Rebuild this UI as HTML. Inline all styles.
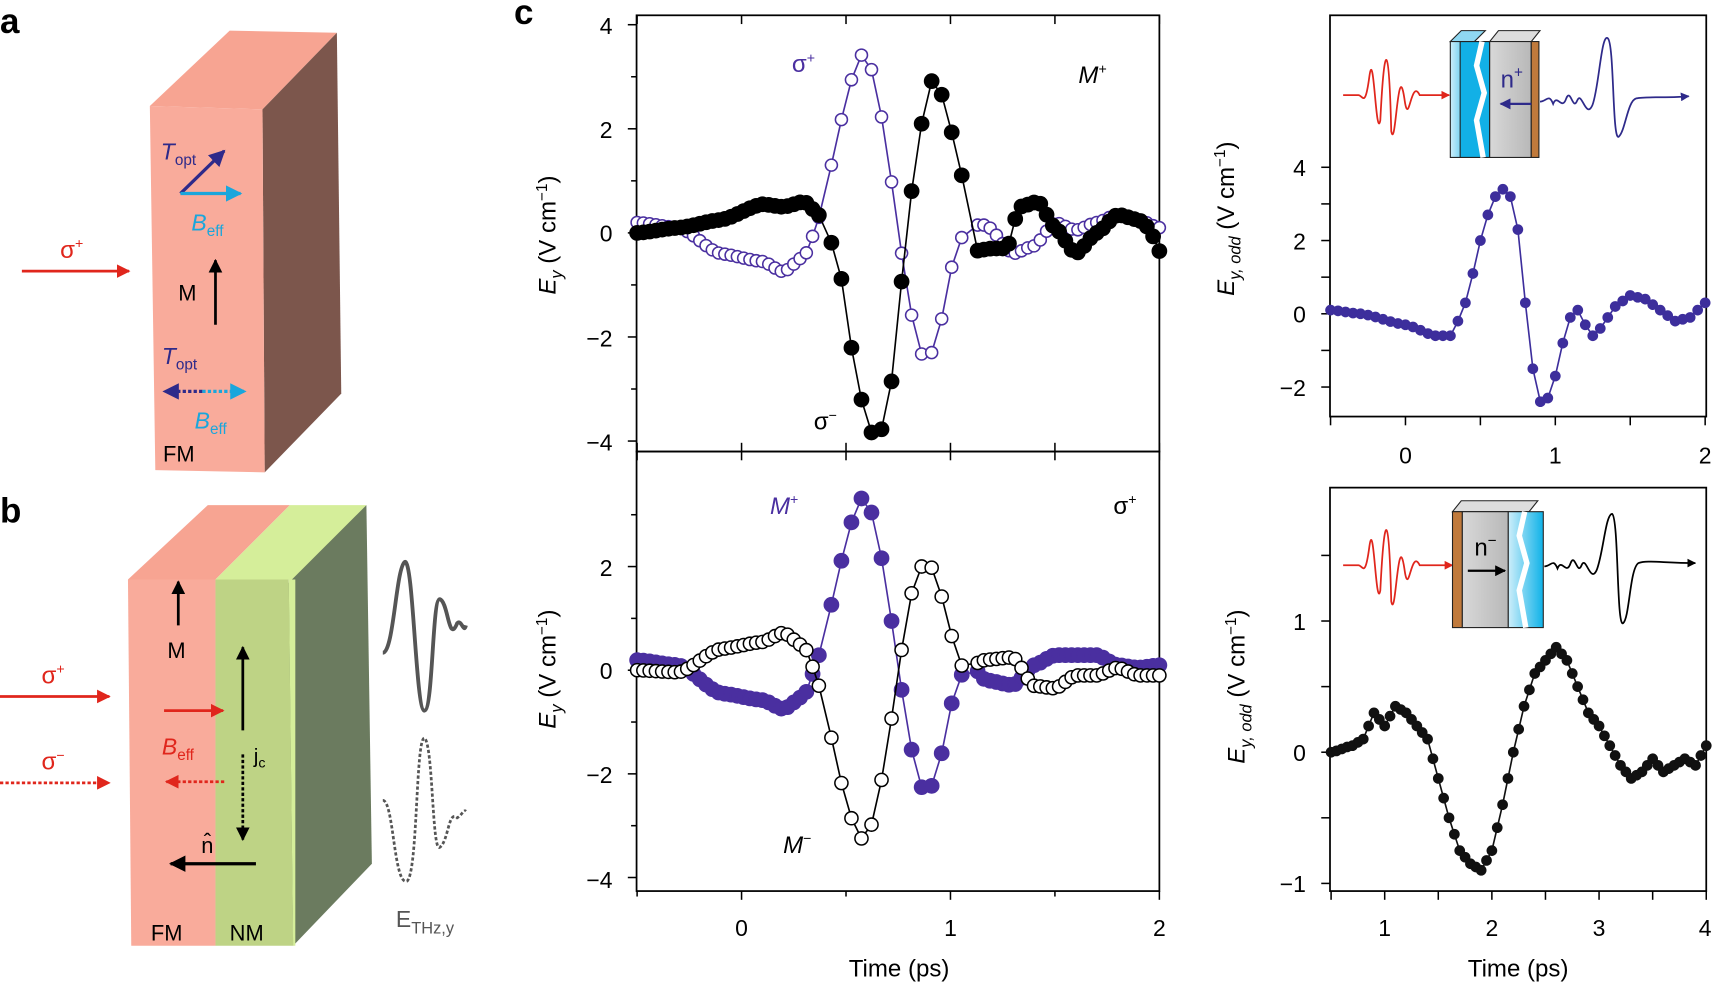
<!DOCTYPE html>
<html><head><meta charset="utf-8"><style>
html,body{margin:0;padding:0;background:#fff;}
svg{display:block;font-family:"Liberation Sans",sans-serif;}
</style></head><body>
<svg id="s" width="1715" height="984" viewBox="0 0 1568 900" preserveAspectRatio="none" xmlns="http://www.w3.org/2000/svg">
<defs>
<marker id="ar" viewBox="0 0 10 10" refX="9" refY="5" markerWidth="5" markerHeight="5" orient="auto"><path d="M0,0L10,5L0,10z" fill="#e0261c"/></marker>
<marker id="ak" viewBox="0 0 10 10" refX="9" refY="5" markerWidth="5" markerHeight="5" orient="auto"><path d="M0,0L10,5L0,10z" fill="#000"/></marker>
<marker id="ab" viewBox="0 0 10 10" refX="9" refY="5" markerWidth="5" markerHeight="5" orient="auto"><path d="M0,0L10,5L0,10z" fill="#2e2a8a"/></marker>
<marker id="ac" viewBox="0 0 10 10" refX="9" refY="5" markerWidth="5" markerHeight="5" orient="auto"><path d="M0,0L10,5L0,10z" fill="#1aa6dc"/></marker>
<linearGradient id="gb" x1="0" x2="1"><stop offset="0" stop-color="#cdeefa"/><stop offset="1" stop-color="#0fb2e8"/></linearGradient>
<linearGradient id="gg" x1="0" x2="1"><stop offset="0" stop-color="#d8d8d8"/><stop offset="1" stop-color="#b8b8b8"/></linearGradient>
</defs>
<!-- panel labels -->
<text x="0" y="30" font-size="32" font-weight="bold">a</text>
<text x="0" y="478" font-size="32" font-weight="bold">b</text>
<text x="470" y="22" font-size="32" font-weight="bold">c</text>

<!-- panel a block -->
<polygon points="137,97 240,100 308,30 210,28" fill="#f7a492"/>
<polygon points="240,100 308,30 312,360 242,432" fill="#7c564c"/>
<polygon points="137,97 240,100 242,432 142,430" fill="#f9ab9b"/>
<line x1="20" y1="248" x2="118" y2="248" stroke="#e0261c" stroke-width="2.5" marker-end="url(#ar)"/>
<text x="55" y="236" font-size="22" fill="#e0261c">σ<tspan font-size="13" dy="-9">+</tspan></text>
<text x="147" y="146" font-size="21" fill="#2e2a8a" font-style="italic">T<tspan font-size="14" dy="5" font-style="normal">opt</tspan></text>
<line x1="165" y1="177" x2="205" y2="138" stroke="#2e2a8a" stroke-width="3" marker-end="url(#ab)"/>
<line x1="165" y1="177" x2="220" y2="177" stroke="#1aa6dc" stroke-width="3" marker-end="url(#ac)"/>
<text x="175" y="211" font-size="21" fill="#1aa6dc" font-style="italic">B<tspan font-size="14" dy="5" font-style="normal">eff</tspan></text>
<line x1="197" y1="297" x2="197" y2="238" stroke="#000" stroke-width="2.5" marker-end="url(#ak)"/>
<text x="163" y="275" font-size="20">M</text>
<text x="148" y="333" font-size="21" fill="#2e2a8a" font-style="italic">T<tspan font-size="14" dy="5" font-style="normal">opt</tspan></text>
<line x1="185" y1="358" x2="150" y2="358" stroke="#2e2a8a" stroke-width="3" stroke-dasharray="3,2" marker-end="url(#ab)"/>
<line x1="185" y1="358" x2="224" y2="358" stroke="#1aa6dc" stroke-width="3" stroke-dasharray="3,2" marker-end="url(#ac)"/>
<text x="178" y="392" font-size="21" fill="#1aa6dc" font-style="italic">B<tspan font-size="14" dy="5" font-style="normal">eff</tspan></text>
<text x="149" y="422" font-size="20">FM</text>

<!-- panel b block -->
<polygon points="117,530 197,530 265,462 190,462" fill="#f7a492"/>
<polygon points="197,530 270,530 335,462 265,462" fill="#d5ee9a"/>
<polygon points="262,535 335,462 340,790 268,865" fill="#6b7b5f"/>
<polygon points="117,530 197,530 197,865 120,865" fill="#f9ab9b"/>
<polygon points="197,530 264,530 268,865 197,865" fill="#bed385"/>
<polygon points="264,530 270,530 270,865 268,865" fill="#d5ee9a"/>
<line x1="163" y1="572" x2="163" y2="532" stroke="#000" stroke-width="2.5" marker-end="url(#ak)"/>
<text x="153" y="602" font-size="20">M</text>
<line x1="0" y1="637" x2="100" y2="637" stroke="#e0261c" stroke-width="2.5" marker-end="url(#ar)"/>
<text x="38" y="625" font-size="22" fill="#e0261c">σ<tspan font-size="13" dy="-9">+</tspan></text>
<line x1="0" y1="716" x2="100" y2="716" stroke="#e0261c" stroke-width="2.5" stroke-dasharray="3,2" marker-end="url(#ar)"/>
<text x="38" y="704" font-size="22" fill="#e0261c">σ<tspan font-size="13" dy="-9">−</tspan></text>
<line x1="150" y1="650" x2="204" y2="650" stroke="#e0261c" stroke-width="2.5" marker-end="url(#ar)"/>
<text x="148" y="690" font-size="21" fill="#e0261c" font-style="italic">B<tspan font-size="14" dy="5" font-style="normal">eff</tspan></text>
<line x1="205" y1="715" x2="152" y2="715" stroke="#e0261c" stroke-width="2.5" stroke-dasharray="3,2" marker-end="url(#ar)"/>
<line x1="222" y1="668" x2="222" y2="592" stroke="#000" stroke-width="2.5" marker-end="url(#ak)"/>
<line x1="222" y1="690" x2="222" y2="768" stroke="#000" stroke-width="2.5" stroke-dasharray="3,2" marker-end="url(#ak)"/>
<text x="232" y="698" font-size="19">j<tspan font-size="13" dy="4">c</tspan></text>
<text x="184" y="780" font-size="20">n̂</text>
<line x1="234" y1="790" x2="156" y2="790" stroke="#000" stroke-width="3" marker-end="url(#ak)"/>
<text x="138" y="860" font-size="20">FM</text>
<text x="210" y="860" font-size="20">NM</text>
<path d="M350,597 C360,597 362,520 370,514 C378,510 380,650 388,650 C396,650 395,548 402,548 C410,550 410,590 418,570 C422,566 424,580 426,572" fill="none" stroke="#555" stroke-width="3.5"/>
<path d="M350,732 C360,732 360,810 372,806 C382,800 380,675 388,675 C396,680 395,780 402,775 C410,770 410,740 418,748 C422,746 424,740 426,742" fill="none" stroke="#555" stroke-width="2.5" stroke-dasharray="3,2"/>
<text x="362" y="848" font-size="21" fill="#555">E<tspan font-size="15" dy="6">THz,y</tspan></text>

<!-- panel c frames -->
<g fill="none" stroke="#000" stroke-width="1.6">
<rect x="582" y="14" width="478" height="399"/>
<rect x="582" y="413" width="478" height="402"/>
<rect x="1216" y="14" width="344" height="367"/>
<rect x="1216" y="446" width="344" height="369"/>
</g>
<g id="ticks" stroke="#000" stroke-width="1.4"></g>
<g font-size="21" text-anchor="end">
<text x="560" y="31">4</text><text x="560" y="126">2</text><text x="560" y="221">0</text><text x="560" y="317">−2</text><text x="560" y="412">−4</text>
<text x="560" y="527">2</text><text x="560" y="621">0</text><text x="560" y="716">−2</text><text x="560" y="812">−4</text>
<text x="1194" y="161">4</text><text x="1194" y="228">2</text><text x="1194" y="295">0</text><text x="1194" y="362">−2</text>
<text x="1194" y="576">1</text><text x="1194" y="696">0</text><text x="1194" y="816">−1</text>
</g>
<g font-size="21" text-anchor="middle">
<text x="678" y="856">0</text><text x="869" y="856">1</text><text x="1060" y="856">2</text>
<text x="1285" y="424">0</text><text x="1422" y="424">1</text><text x="1559" y="424">2</text>
<text x="1266" y="856">1</text><text x="1364" y="856">2</text><text x="1462" y="856">3</text><text x="1559" y="856">4</text>
<text x="822" y="893" font-size="22">Time (ps)</text>
<text x="1388" y="893" font-size="22">Time (ps)</text>
</g>
<g font-size="22">
<text transform="translate(508,215) rotate(-90)" text-anchor="middle"><tspan font-style="italic">E</tspan><tspan font-style="italic" font-size="15" dy="6">y</tspan><tspan dy="-6"> (V cm</tspan><tspan font-size="14" dy="-8">−1</tspan><tspan dy="8">)</tspan></text>
<text transform="translate(508,612) rotate(-90)" text-anchor="middle"><tspan font-style="italic">E</tspan><tspan font-style="italic" font-size="15" dy="6">y</tspan><tspan dy="-6"> (V cm</tspan><tspan font-size="14" dy="-8">−1</tspan><tspan dy="8">)</tspan></text>
<text transform="translate(1128,200) rotate(-90)" text-anchor="middle"><tspan font-style="italic">E</tspan><tspan font-style="italic" font-size="15" dy="6">y, odd</tspan><tspan dy="-6"> (V cm</tspan><tspan font-size="14" dy="-8">−1</tspan><tspan dy="8">)</tspan></text>
<text transform="translate(1138,628) rotate(-90)" text-anchor="middle"><tspan font-style="italic">E</tspan><tspan font-style="italic" font-size="15" dy="6">y, odd</tspan><tspan dy="-6"> (V cm</tspan><tspan font-size="14" dy="-8">−1</tspan><tspan dy="8">)</tspan></text>
</g>
<g font-size="22">
<text x="724" y="66" fill="#4a2fa0">σ<tspan font-size="13" dy="-9">+</tspan></text>
<text x="986" y="76" font-style="italic">M<tspan font-size="13" dy="-9" font-style="normal">+</tspan></text>
<text x="744" y="393">σ<tspan font-size="13" dy="-9">−</tspan></text>
<text x="704" y="470" font-style="italic" fill="#4a2fa0">M<tspan font-size="13" dy="-9" font-style="normal">+</tspan></text>
<text x="1018" y="470">σ<tspan font-size="13" dy="-9">+</tspan></text>
<text x="716" y="780" font-style="italic">M<tspan font-size="13" dy="-9" font-style="normal">−</tspan></text>
</g>
<g id="data"></g>

<!-- insets top -->
<path d="M1228,87 L1242,87 C1246,87 1248,100 1252,70 C1256,40 1258,130 1262,110 C1266,30 1270,40 1272,120 C1276,140 1278,50 1284,90 C1288,120 1290,70 1298,87 L1325,87" fill="none" stroke="#e0261c" stroke-width="1.6" marker-end="url(#ar)"/>
<polygon points="1326,38 1336,28 1358,28 1348,38" fill="#8fd8f2" stroke="#222" stroke-width="1"/>
<rect x="1326" y="38" width="22" height="106" fill="url(#gb)" stroke="#222" stroke-width="1"/>
<polygon points="1335,38 1362,38 1362,144 1335,144" fill="#12b0e6" stroke="#222" stroke-width="1"/>
<path d="M1355,38 L1350,60 L1357,85 L1350,110 L1356,144" stroke="#fff" stroke-width="5" fill="none"/>
<polygon points="1362,38 1400,38 1408,28 1370,28" fill="#ddd" stroke="#222" stroke-width="1"/>
<rect x="1362" y="38" width="38" height="106" fill="url(#gg)" stroke="#222" stroke-width="1"/>
<rect x="1400" y="38" width="7" height="106" fill="#c07a3c" stroke="#222" stroke-width="1"/>
<text x="1372" y="80" font-size="22" fill="#2e2a8a">n<tspan font-size="14" dy="-9">+</tspan></text>
<line x1="1400" y1="95" x2="1372" y2="95" stroke="#2e2a8a" stroke-width="2" marker-end="url(#ab)"/>
<path d="M1408,93 C1414,93 1416,85 1420,95 C1424,85 1428,102 1432,90 C1436,80 1438,102 1442,92 C1446,82 1450,110 1456,96 C1462,80 1464,30 1470,35 C1476,40 1474,130 1480,125 C1486,120 1488,92 1496,90 C1504,88 1520,90 1544,88" fill="none" stroke="#2e2a8a" stroke-width="1.6" marker-end="url(#ab)"/>
<!-- inset bottom -->
<path d="M1228,517 L1242,517 C1246,517 1248,530 1252,500 C1256,470 1258,560 1262,540 C1266,460 1270,470 1272,550 C1276,570 1278,480 1284,520 C1288,550 1290,500 1298,517 L1328,517" fill="none" stroke="#e0261c" stroke-width="1.6" marker-end="url(#ar)"/>
<polygon points="1328,468 1336,458 1406,458 1398,468" fill="#ddd" stroke="#222" stroke-width="1"/>
<rect x="1328" y="468" width="9" height="106" fill="#c07a3c" stroke="#222" stroke-width="1"/>
<rect x="1337" y="468" width="42" height="106" fill="url(#gg)" stroke="#222" stroke-width="1"/>
<rect x="1379" y="468" width="32" height="106" fill="url(#gb)" stroke="#222" stroke-width="1"/>
<path d="M1394,468 L1389,490 L1396,515 L1389,540 L1395,574" stroke="#fff" stroke-width="5" fill="none"/>
<text x="1348" y="508" font-size="22">n<tspan font-size="14" dy="-9">−</tspan></text>
<line x1="1342" y1="522" x2="1376" y2="522" stroke="#000" stroke-width="2" marker-end="url(#ak)"/>
<path d="M1412,518 C1418,518 1420,510 1424,520 C1428,510 1432,527 1436,515 C1440,505 1442,527 1446,517 C1450,507 1454,535 1460,521 C1466,505 1468,470 1474,470 C1480,475 1478,575 1484,570 C1490,565 1490,520 1498,515 C1506,512 1520,515 1550,515" fill="none" stroke="#000" stroke-width="1.6" marker-end="url(#ak)"/>
</svg>
<script>
var NS="http://www.w3.org/2000/svg",D=document.getElementById('data'),T=document.getElementById('ticks');
function el(n,a,p){var e=document.createElementNS(NS,n);for(var k in a)e.setAttribute(k,a[k]);(p||D).appendChild(e);return e;}
function interp(P,t){for(var i=0;i<P.length-1;i++){if(t<=P[i+1][0]){var a=P[i],b=P[i+1],f=(t-a[0])/(b[0]-a[0]);
 // smooth cosine interpolation
 var g=(1-Math.cos(f*Math.PI))/2*0.5+f*0.5;return a[1]+(b[1]-a[1])*g;}}return P[P.length-1][1];}
function series(P,X,Y,steps,fill,stroke,r){var ts=[];steps.forEach(function(s){for(var t=s[0];t<=s[1]+1e-9;t+=s[2])ts.push(t);});
 var pts=ts.map(function(t){return [X(t),Y(interp(P,t))];});
 el('polyline',{points:pts.map(function(p){return p[0].toFixed(1)+','+p[1].toFixed(1)}).join(' '),fill:'none',stroke:stroke,'stroke-width':1.5});
 pts.forEach(function(p){el('circle',{cx:p[0],cy:p[1],r:r,fill:fill,stroke:stroke,'stroke-width':1.4});});}
var XL=function(t){return 678+191*t;},YT=function(v){return 213-47.6*v;},YB=function(v){return 613-47.4*v;};
var blk=[[-0.5,0],[-0.3,0.1],[-0.1,0.25],[0.1,0.55],[0.2,0.5],[0.3,0.6],[0.36,0.4],[0.42,-0.1],[0.47,-0.7],[0.5,-1.55],[0.55,-2.8],[0.6,-3.65],[0.645,-4.03],[0.7,-3.45],[0.745,-1.85],[0.79,0.15],[0.85,1.9],[0.9,2.95],[0.96,2.65],[1.06,1.05],[1.11,-0.35],[1.2,-0.3],[1.27,-0.3],[1.33,0.5],[1.42,0.6],[1.5,0.1],[1.6,-0.4],[1.7,0.0],[1.8,0.35],[1.9,0.25],[1.95,0.1],[2.0,-0.35]];
var pur=[[-0.5,0.2],[-0.3,0.1],[-0.1,-0.4],[0.1,-0.55],[0.2,-0.75],[0.3,-0.45],[0.35,0],[0.4,0.8],[0.45,1.6],[0.5,2.6],[0.55,3.25],[0.6,3.6],[0.635,2.9],[0.69,1.9],[0.745,0.1],[0.8,-1.3],[0.84,-2.2],[0.89,-2.5],[0.93,-2.1],[0.97,-1.5],[1.0,-0.7],[1.06,-0.05],[1.1,0.15],[1.17,0.15],[1.3,-0.4],[1.4,-0.25],[1.5,0.2],[1.6,0.05],[1.7,0.2],[1.8,0.35],[1.9,0.25],[2.0,0.1]];
var st=[[-0.5,0.38,0.03],[0.43,1.1,0.048],[1.13,2.0,0.03]];
series(pur,XL,YT,st,'#fff','#4a2fa0',5.5);
series(blk,XL,YT,st,'#000','#000',6.5);
var pur2=pur.map(function(p){var v=p[1];if(p[0]<0.35&&p[0]>-0.3)v=-0.1+v*0.9;if(p[0]>=1.1)v=[0.1,-0.2,-0.3,0.1,0.3,0.3,0.1,0.05,0.1][Math.min(8,Math.round((p[0]-1.1)/0.11))];return [p[0],v*0.97];});
var blk2=pur.map(function(p){var v=-p[1];if(p[0]<0.35)v=v*0.9+0.05;if(p[0]>0.5&&p[0]<0.7)v=v*0.95;if(p[0]>0.8&&p[0]<1.0)v=v*0.86;if(p[0]>=1.1)v=[0.1,0.2,0.25,-0.3,-0.35,-0.1,0.05,-0.1,-0.1][Math.min(8,Math.round((p[0]-1.1)/0.11))];return [p[0],v];});
blk2[0][1]=0;
series(pur2,XL,YB,st,'#4a2fa0','#4a2fa0',6.5);
series(blk2,XL,YB,st,'#fff','#000',6);
var blue=[[-0.5,0.1],[-0.3,0.0],[0,-0.3],[0.2,-0.6],[0.3,-0.6],[0.35,-0.2],[0.4,0.3],[0.45,1.1],[0.5,2.0],[0.55,2.7],[0.6,3.2],[0.65,3.4],[0.7,3.2],[0.75,2.3],[0.8,0.3],[0.85,-1.5],[0.9,-2.4],[0.95,-2.3],[1.0,-1.7],[1.05,-0.8],[1.1,-0.1],[1.15,0.1],[1.2,-0.3],[1.25,-0.6],[1.3,-0.4],[1.4,0.2],[1.5,0.5],[1.6,0.4],[1.7,0.1],[1.8,-0.2],[1.9,-0.1],[2.0,0.3]];
series(blue,function(t){return 1285+137*t;},function(v){return 287-33.5*v;},[[-0.5,2.0,0.05]],'#3d2e9c','#3d2e9c',4.2);
var bk=[[0.5,0],[0.7,0.05],[0.8,0.1],[0.9,0.3],[1.0,0.2],[1.1,0.35],[1.2,0.3],[1.3,0.2],[1.4,0.1],[1.5,-0.2],[1.6,-0.5],[1.7,-0.75],[1.8,-0.85],[1.9,-0.9],[2.0,-0.75],[2.1,-0.4],[2.2,0.0],[2.3,0.35],[2.4,0.6],[2.5,0.7],[2.6,0.8],[2.7,0.7],[2.8,0.5],[2.9,0.3],[3.0,0.2],[3.1,0.05],[3.2,-0.1],[3.3,-0.2],[3.4,-0.15],[3.5,-0.05],[3.6,-0.15],[3.7,-0.1],[3.8,-0.05],[3.9,-0.1],[4.0,0.05]];
series(bk,function(t){return 1266+98*(t-1);},function(v){return 688-120*v;},[[0.5,4.0,0.05]],'#111','#111',4.2);
// ticks
function tk(x1,y1,x2,y2){el('line',{x1:x1,y1:y1,x2:x2,y2:y2},T);}
[4,3,2,1,0,-1,-2,-3,-4].forEach(function(v,i){var L=(v%2==0)?8:5;tk(582,YT(v),582-L,YT(v));if(v<=3)tk(582,YB(v),582-L,YB(v));});
[-0.5,0,0.5,1,1.5,2].forEach(function(t){var x=XL(t),L=(t%1==0)?8:5;tk(x,815,x,815+L);tk(x,413,x,405);tk(x,413,x,421);tk(x,14,x,22);});
[4,3,2,1,0,-1,-2].forEach(function(v){var y=287-33.5*v;tk(1216,y,1208,y);});
[-0.5,0,0.5,1,1.5,2].forEach(function(t){var x=1285+137*t;tk(x,381,x,389);});
[1.5,1,0.5,0,-0.5,-1].forEach(function(v){var y=688-120*v;tk(1216,y,1208,y);});
[0.5,1,1.5,2,2.5,3,3.5,4].forEach(function(t){var x=1266+98*(t-1);tk(x,815,x,823);});
</script>
</body></html>
